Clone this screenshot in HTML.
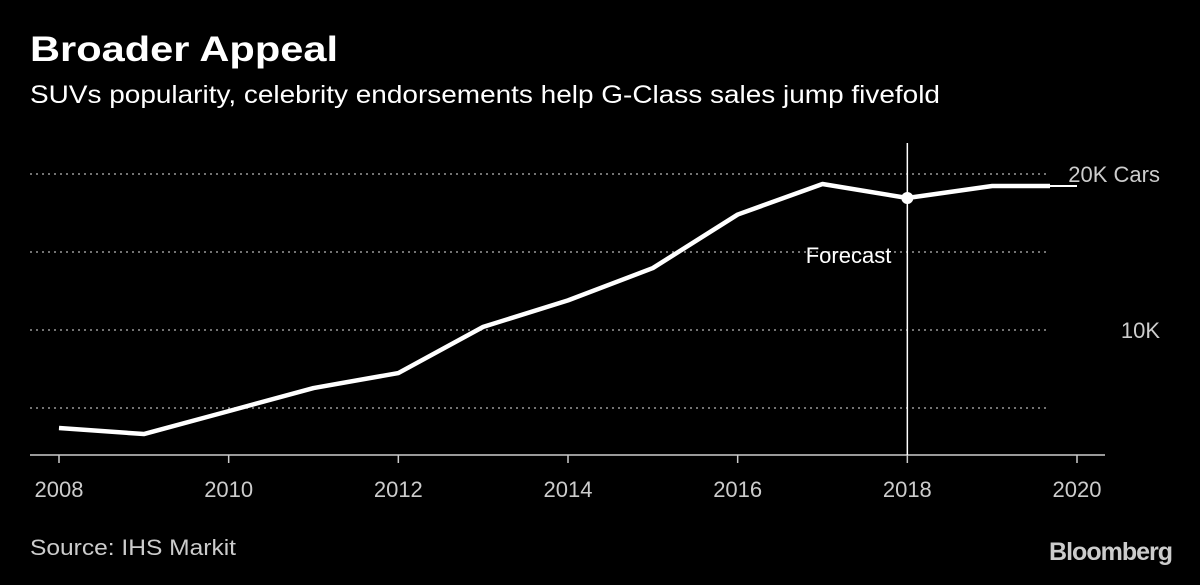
<!DOCTYPE html>
<html><head><meta charset="utf-8"><style>
body{margin:0;background:#000;width:1200px;height:580px;overflow:hidden;font-family:"Liberation Sans",sans-serif;}
</style></head><body>
<svg width="1200" height="580" xmlns="http://www.w3.org/2000/svg">
<rect width="1200" height="580" fill="#000"/>
<text x="30" y="61" fill="#fff" font-size="35" font-weight="bold" textLength="308" lengthAdjust="spacingAndGlyphs">Broader Appeal</text>
<text x="30" y="103" fill="#fff" font-size="25" textLength="910" lengthAdjust="spacingAndGlyphs">SUVs popularity, celebrity endorsements help G-Class sales jump fivefold</text>
<g id="grid"></g>
<g id="axis"></g>
<g id="series"></g>
<text x="30" y="555" fill="#ccc" font-size="22" textLength="206" lengthAdjust="spacingAndGlyphs">Source: IHS Markit</text>
<text x="1172" y="560" fill="#ccc" font-size="25" font-weight="bold" text-anchor="end" letter-spacing="-1">Bloomberg</text>
</svg>
<script>
const years=[2008,2009,2010,2011,2012,2013,2014,2015,2016,2017,2018,2019,2020];
const sales=[3.72,3.33,4.8,6.28,7.24,10.2,11.9,13.97,17.4,19.36,18.46,19.23,19.23];
const gridValues=[5,10,15,20];
const gridLabels=["","10K","","20K Cars"];
const xTicks=[2008,2010,2012,2014,2016,2018,2020];
const forecastYear=2018;
const NS="http://www.w3.org/2000/svg";
const x=v=>59+(v-2008)*(1077-59)/12;
const y=v=>330-(v-10)*15.6;
function mk(tag,attrs,parent,txt){const e=document.createElementNS(NS,tag);for(const k in attrs)e.setAttribute(k,attrs[k]);if(txt!==undefined)e.textContent=txt;parent.appendChild(e);return e;}
const grid=document.getElementById('grid'),axis=document.getElementById('axis'),ser=document.getElementById('series');
gridValues.forEach((g,i)=>{
  const l=mk('line',{x1:30,x2:1050,y1:y(g),y2:y(g),stroke:'#999','stroke-width':1.5,'stroke-dasharray':'2,4'},grid);
  
  
  if(gridLabels[i]){const t=mk('text',{x:1160,y:y(g)+8,fill:'#ccc','font-size':22,'text-anchor':'end'},grid,gridLabels[i]);
  
  }
});
const ax=mk('line',{x1:30,x2:1105,y1:455,y2:455,stroke:'#ccc','stroke-width':1.5},axis);


xTicks.forEach(t=>{
  const tk=mk('line',{x1:x(t),x2:x(t),y1:455,y2:463,stroke:'#ccc','stroke-width':1.5},axis);
  
  
  const lb=mk('text',{x:x(t),y:497,fill:'#ccc','font-size':22,'text-anchor':'middle'},axis,t);
  
  
});
const fl=mk('line',{x1:x(forecastYear),x2:x(forecastYear),y1:143,y2:455,stroke:'#fff','stroke-width':1.5},ser);


const ft=mk('text',{x:x(forecastYear)-16,y:263,fill:'#fff','font-size':22,'text-anchor':'end'},ser,'Forecast');


const pts=years.map((yr,i)=>x(yr)+','+y(sales[i])).join(' ');
const clip=mk('clipPath',{id:'cl'},ser);mk('rect',{x:0,y:0,width:1050,height:580},clip);
const thin=mk('polyline',{points:pts,fill:'none',stroke:'#fff','stroke-width':2},ser);


const pl=mk('polyline',{points:pts,fill:'none',stroke:'#fff','stroke-width':4.5,'stroke-linejoin':'round','clip-path':'url(#cl)'},ser);


const fi=years.indexOf(forecastYear);
const dot=mk('circle',{cx:x(forecastYear),cy:y(sales[fi]),r:6,fill:'#fff'},ser);


</script>
</body></html>
